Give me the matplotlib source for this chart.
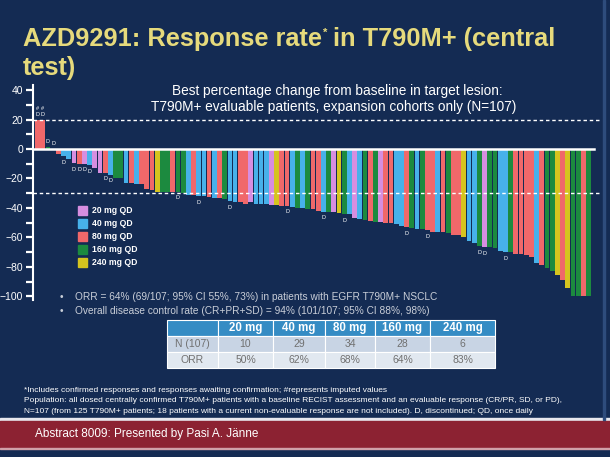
import numpy as np
import matplotlib.pyplot as plt
from matplotlib.patches import Rectangle

plt.rcParams['font.family'] = ['Liberation Sans', 'DejaVu Sans']

# best % change from baseline, one bar per patient (sorted as on the slide)
changes = [20, 20, 1.5, 0, -3.5, -5, -7, -9.5, -10, -10,
           -11, -13, -16, -16, -17.5, -19.5, -19.5, -23, -23, -24,
           -24, -27, -28, -29, -29, -29, -29, -29, -29.5, -31,
           -31, -32, -32, -32.5, -33, -33.5, -34, -35.5, -36, -36,
           -37, -36, -37, -37, -37.5, -38, -38, -38.4, -38.5, -39,
           -40, -40, -40.5, -41, -42, -42.5, -43, -43, -43.5, -44,
           -44, -47, -47.5, -48, -49, -49.5, -49.5, -50, -50, -51,
           -52, -53, -53.5, -54, -54.5, -55, -56, -56, -56.5, -57,
           -58, -58.5, -59.5, -62.5, -64, -66, -66.5, -66.5, -67, -69,
           -70, -70, -71, -71.5, -72, -73, -77, -78.6, -81, -83,
           -85.5, -89, -94, -100, -100, -100, -100]
doses = [80, 80, 160, 160, 80, 40, 40, 20, 80, 20,
         40, 20, 20, 80, 40, 160, 160, 40, 80, 40,
         80, 80, 80, 240, 160, 160, 80, 160, 160, 40,
         80, 40, 40, 80, 40, 80, 160, 40, 40, 80,
         80, 20, 40, 40, 40, 20, 240, 80, 80, 40,
         160, 40, 160, 80, 80, 40, 160, 20, 240, 160,
         40, 20, 40, 160, 80, 160, 20, 80, 80, 40,
         40, 80, 160, 40, 160, 80, 80, 40, 80, 160,
         80, 80, 240, 40, 40, 160, 20, 160, 160, 40,
         40, 160, 80, 80, 80, 80, 40, 80, 160, 160,
         240, 80, 240, 160, 160, 80, 160]
# bars marked D (discontinued) and # (imputed)
disc_idx = [0, 1, 2, 3, 5, 7, 8, 9, 10, 13, 14, 27, 31, 37, 48, 55, 59, 71, 75, 85, 86, 90]
imputed_idx = [0, 1]

dose_labels = ['20 mg QD', '40 mg QD', '80 mg QD', '160 mg QD', '240 mg QD']
dose_keys = [20, 40, 80, 160, 240]
dose_colors = {20: '#d68ee0', 40: '#47b1ea', 80: '#f0686a', 160: '#1c8a3f', 240: '#d5c41f'}

tbl_cols = ['', '20 mg', '40 mg', '80 mg', '160 mg', '240 mg']
tbl_n = ['N (107)', '10', '29', '34', '28', '6']
tbl_orr = ['ORR', '50%', '62%', '68%', '64%', '83%']

bg = '#142b53'
W, H = 610, 457
fig = plt.figure(figsize=(6.1, 4.57), dpi=100, facecolor=bg)

def fx(x):
    return x / W

def fy(y):
    return 1 - y / H

# title (with superscript asterisk)
tcol = '#e6da7c'
tfs = 18.3
t1 = fig.text(fx(23), fy(46), 'AZD9291: Response rate', color=tcol, fontsize=tfs,
              fontweight='bold', va='baseline')
fig.canvas.draw()
bb = t1.get_window_extent()
fig.text(fx(bb.x1 + 1), fy(36), '*', color=tcol, fontsize=8, fontweight='bold', va='baseline')
fig.text(fx(bb.x1 + 11), fy(46), 'in T790M+ (central', color=tcol, fontsize=tfs,
         fontweight='bold', va='baseline')
fig.text(fx(23), fy(75), 'test)', color=tcol, fontsize=tfs, fontweight='bold', va='baseline')

# waterfall
ax = fig.add_axes([fx(33), fy(300), fx(600) - fx(33), fy(85) - fy(300)])
ax.set_facecolor('none')
x = np.arange(len(changes))
cols = [dose_colors[d] for d in doses]
ax.bar(x, changes, width=0.92, color=cols, edgecolor='none', zorder=2)
ax.axhline(0, color='white', lw=1.8, xmax=0.99, zorder=3)
ax.axhline(20, color='white', lw=1, ls=(0, (2.5, 2)), zorder=3)
ax.axhline(-30, color='white', lw=1, ls=(0, (2.5, 2)), zorder=3)
ax.set_xlim(-0.88, 108.2)
ax.set_ylim(-102.4, 43.4)
ax.set_yticks(np.arange(-100, 41, 20))
ax.set_yticks(np.arange(-90, 41, 20), minor=True)
ax.tick_params(axis='y', which='both', colors='white', length=5, width=1.6,
               labelsize=7.5, pad=2)
ax.set_xticks([])
for s in ['top', 'right', 'bottom']:
    ax.spines[s].set_visible(False)
ax.spines['left'].set_color('white')
ax.spines['left'].set_linewidth(1.5)

for i in disc_idx:
    v = changes[i]
    yy = v + 2 if v >= 0 else v - 2.5
    ax.text(i, yy, 'D', color='white', fontsize=4, ha='center',
            va='bottom' if v >= 0 else 'top', zorder=4)
for i in imputed_idx:
    ax.text(i, changes[i] + 6, '#', color='white', fontsize=4, ha='center', va='bottom', zorder=4)

fig.text(fx(337), fy(91), 'Best percentage change from baseline in target lesion:',
         color='white', fontsize=9.8, ha='center', va='center')
fig.text(fx(334), fy(107), 'T790M+ evaluable patients, expansion cohorts only (N=107)',
         color='white', fontsize=9.8, ha='center', va='center')

# legend
for k, (lab, d) in enumerate(zip(dose_labels, dose_keys)):
    yy = 206 + 13 * k
    fig.patches.append(Rectangle((fx(78), fy(yy + 9)), fx(9), 9 / H,
                                 transform=fig.transFigure, color=dose_colors[d]))
    fig.text(fx(92), fy(yy + 4.5), lab, color='white', fontsize=6.2,
             fontweight='bold', va='center')

# bullets
gray = '#c9ced8'
fig.text(fx(60), fy(297), '\u2022', color=gray, fontsize=7.3, va='center')
fig.text(fx(75), fy(297), 'ORR = 64% (69/107; 95% CI 55%, 73%) in patients with EGFR T790M+ NSCLC',
         color=gray, fontsize=7.3, va='center')
fig.text(fx(60), fy(311), '\u2022', color=gray, fontsize=7.3, va='center')
fig.text(fx(75), fy(311), 'Overall disease control rate (CR+PR+SD) = 94% (101/107; 95% CI 88%, 98%)',
         color=gray, fontsize=7.3, va='center')

# table
tax = fig.add_axes([fx(167), fy(368), fx(495) - fx(167), fy(320) - fy(368)])
tax.axis('off')
tb = tax.table(cellText=[tbl_n, tbl_orr], colLabels=tbl_cols, bbox=[0, 0, 1, 1],
               cellLoc='center', colWidths=[51, 55, 52, 50, 55, 65])
tb.auto_set_font_size(False)
for (r, c), cell in tb.get_celld().items():
    cell.set_edgecolor('white')
    cell.set_linewidth(0.8)
    if r == 0:
        cell.set_facecolor('#358cc4')
        cell.get_text().set_color('white')
        cell.get_text().set_fontweight('bold')
        cell.get_text().set_fontsize(8.3)
    else:
        cell.set_facecolor('#c8d4e4' if r == 1 else '#e1e8f0')
        cell.get_text().set_color('#707070')
        cell.get_text().set_fontsize(7.5)

# footnotes
notes = ['*Includes confirmed responses and responses awaiting confirmation; #represents imputed values',
         'Population: all dosed centrally confirmed T790M+ patients with a baseline RECIST assessment and an evaluable response (CR/PR, SD, or PD),',
         'N=107 (from 125 T790M+ patients; 18 patients with a current non-evaluable response are not included). D, discontinued; QD, once daily']
for k, n in enumerate(notes):
    fig.text(fx(24), fy(390 + 10.8 * k), n, color='white', fontsize=6.05, va='center')

# footer band
fig.patches.append(Rectangle((0, fy(420)), 1, 2 / H, transform=fig.transFigure, color='#e8e8ee'))
fig.patches.append(Rectangle((0, fy(448)), 1, 27 / H, transform=fig.transFigure, color='#8c2232'))
fig.patches.append(Rectangle((0, fy(449)), 1, 1 / H, transform=fig.transFigure, color='#d0a0a8'))
fig.text(fx(35), fy(434), 'Abstract 8009: Presented by Pasi A. J\u00e4nne', color='white',
         fontsize=8.5, va='center')
fig.patches.append(Rectangle((fx(603), fy(420)), 2 / W, 420 / H, transform=fig.transFigure,
                             color='#2e4c7c'))

fig.savefig('out.png', dpi=100, facecolor=bg)
